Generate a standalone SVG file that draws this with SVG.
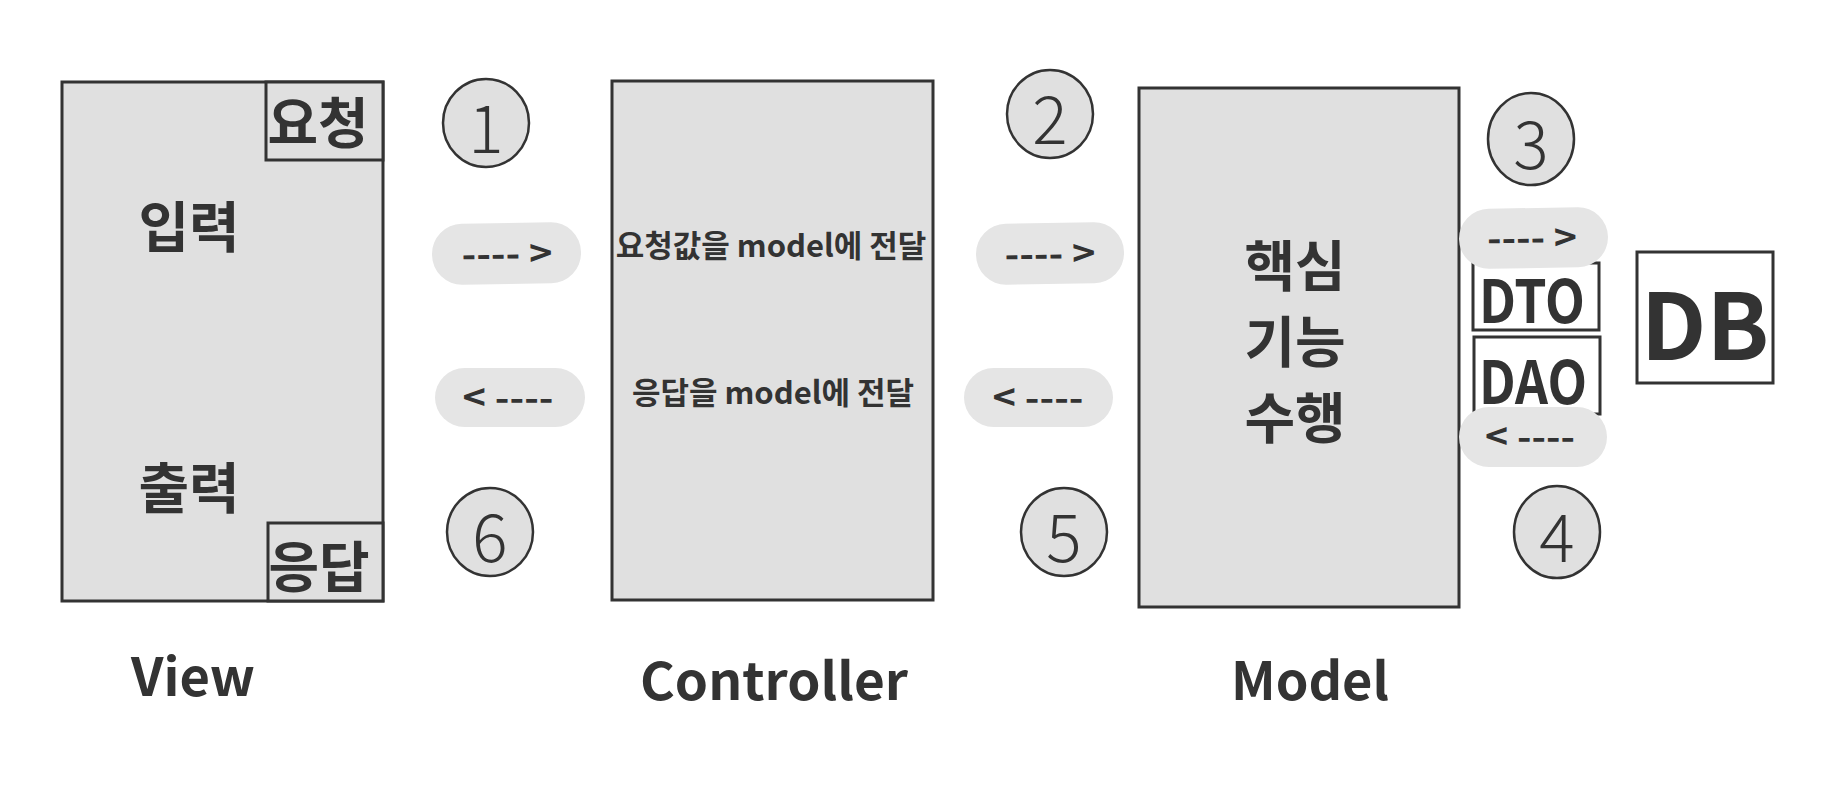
<svg xmlns="http://www.w3.org/2000/svg" width="1830" height="786" viewBox="0 0 1830 786">
<style>
  .box{fill:#e0e0e0;stroke:#333;stroke-width:3}
  .wbox{fill:#fff;stroke:#333;stroke-width:3}
  .pill{fill:#e5e5e5;stroke:none}
  .circ{fill:#e0e0e0;stroke:#333;stroke-width:2.5}
  text{font-family:"Noto Sans CJK KR","Noto Sans",sans-serif;fill:#333;text-anchor:middle;dominant-baseline:central}
  .b{font-weight:700}
  .num{font-weight:300;font-size:66px}
  .big{font-weight:700;font-size:55px}
  .mid{font-weight:700;font-size:31px}
  .arr{font-weight:700;font-size:36px}
  .lbl{font-weight:700;font-size:52px}
</style>
<rect width="1830" height="786" fill="#fff"/>

<g id="view">
  <rect class="box" x="62" y="82" width="321" height="519"/>
  <rect class="box" x="266" y="82" width="117" height="78"/>
  <text class="big" x="318" y="119">요청</text>
  <text class="big" x="189" y="223">입력</text>
  <text class="big" x="189" y="484">출력</text>
  <rect class="box" x="268" y="523" width="115" height="78"/>
  <text class="big" x="319" y="563">응답</text>
  <text class="lbl" x="193" y="673" textLength="124" lengthAdjust="spacingAndGlyphs">View</text>
</g>

<g id="controller">
  <rect class="box" x="612" y="81" width="321" height="519"/>
  <text class="mid" x="771" y="243">요청값을 model에 전달</text>
  <text class="mid" x="773" y="390">응답을 model에 전달</text>
  <text class="lbl" x="774" y="677" textLength="268" lengthAdjust="spacingAndGlyphs">Controller</text>
</g>

<g id="model">
  <rect class="box" x="1139" y="88" width="320" height="519"/>
  <text class="big" x="1295" y="262">핵심</text>
  <text class="big" x="1295" y="338">기능</text>
  <text class="big" x="1295" y="414">수행</text>
  <text class="lbl" x="1310" y="677" textLength="158" lengthAdjust="spacingAndGlyphs">Model</text>
</g>

<g id="dto">
  <rect class="wbox" x="1473" y="263" width="126" height="67"/>
  <text class="b" x="1532" y="296" font-size="60" textLength="106" lengthAdjust="spacingAndGlyphs">DTO</text>
</g>
<g id="dao">
  <rect class="wbox" x="1474" y="337" width="126" height="77"/>
  <text class="b" x="1533" y="377" font-size="60" textLength="108" lengthAdjust="spacingAndGlyphs">DAO</text>
</g>
<g id="db">
  <rect class="wbox" x="1637" y="252" width="136" height="131"/>
  <text class="b" x="1705" y="319" font-size="92">DB</text>
</g>

<g id="steps">
  <ellipse class="circ" cx="486" cy="123" rx="43" ry="44"/>
  <text class="num" x="486" y="124">1</text>
  <ellipse class="circ" cx="1050" cy="114" rx="43" ry="44"/>
  <text class="num" x="1050" y="115">2</text>
  <ellipse class="circ" cx="1531" cy="139" rx="43" ry="46"/>
  <text class="num" x="1531" y="140">3</text>
  <ellipse class="circ" cx="1557" cy="532" rx="43" ry="46"/>
  <text class="num" x="1557" y="533">4</text>
  <ellipse class="circ" cx="1064" cy="532" rx="43" ry="44"/>
  <text class="num" x="1064" y="533">5</text>
  <ellipse class="circ" cx="490" cy="532" rx="43" ry="44"/>
  <text class="num" x="490" y="533">6</text>
</g>

<g id="connectors">
  <g transform="rotate(-1 507 253)">
    <rect class="pill" x="432" y="223" width="149" height="61" rx="30"/>
    <text class="arr" x="507" y="251" textLength="91" lengthAdjust="spacingAndGlyphs">---- &gt;</text>
  </g>
  <rect class="pill" x="435" y="368" width="150" height="59" rx="29.5"/>
  <text class="arr" x="508" y="395" textLength="91" lengthAdjust="spacingAndGlyphs">&lt; ----</text>
  <g transform="rotate(-1 1050 253)">
    <rect class="pill" x="976" y="223" width="148" height="61" rx="30"/>
    <text class="arr" x="1050" y="251" textLength="91" lengthAdjust="spacingAndGlyphs">---- &gt;</text>
  </g>
  <rect class="pill" x="964" y="368" width="149" height="59" rx="29.5"/>
  <text class="arr" x="1038" y="395" textLength="91" lengthAdjust="spacingAndGlyphs">&lt; ----</text>
  <g transform="rotate(-1 1533 238)">
    <rect class="pill" x="1459" y="208" width="149" height="60" rx="30"/>
    <text class="arr" x="1532" y="235" textLength="90" lengthAdjust="spacingAndGlyphs">---- &gt;</text>
  </g>
  <rect class="pill" x="1459" y="407" width="148" height="60" rx="30"/>
  <text class="arr" x="1530" y="434" textLength="90" lengthAdjust="spacingAndGlyphs">&lt; ----</text>
</g>
</svg>
